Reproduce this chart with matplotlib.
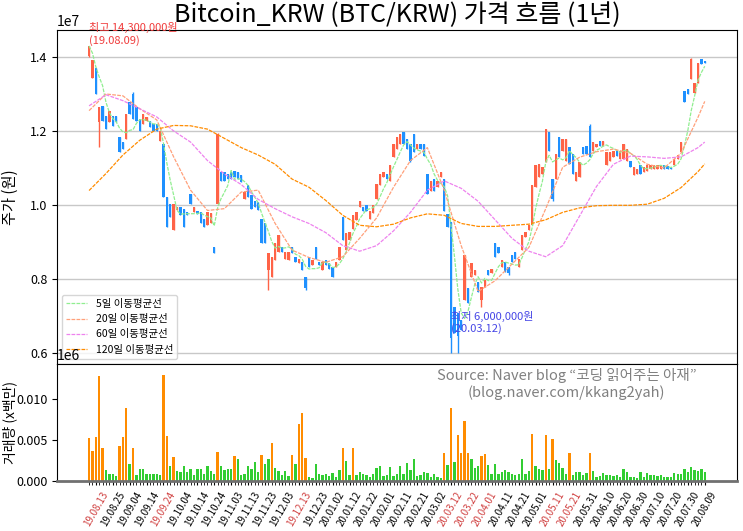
import numpy as np
import pandas as pd
import matplotlib
matplotlib.use("Agg")
import matplotlib.pyplot as plt

plt.rcParams['font.family'] = ['Noto Sans CJK KR', 'DejaVu Sans']
plt.rcParams['axes.unicode_minus'] = False

# 시가 / 종가 (백만원)
opens = [
    14.03, 13.44, 13.71, 12.23, 12.68, 12.41, 12.23, 12.41, 12.41, 11.83,
    11.69, 11.78, 12.77, 12.99, 12.64, 12.32, 12.19, 12.28, 12.28, 12.19,
    12.19, 11.74, 11.65, 10.21, 10.03, 9.32, 9.86, 9.94, 9.90, 9.81,
    10.30, 9.81, 9.85, 9.81, 9.63, 9.45, 9.50, 8.87, 10.03, 10.89,
    10.89, 10.85, 10.89, 10.93, 10.89, 10.80, 10.17, 10.53, 10.26, 10.10,
    10.08, 9.63, 9.50, 8.24, 8.06, 8.51, 8.73, 8.87, 8.55, 8.51,
    8.87, 8.60, 8.42, 8.45, 8.06, 8.60, 8.37, 8.87, 8.46, 8.24,
    8.51, 8.42, 8.33, 8.33, 8.51, 9.68, 8.78, 9.05, 9.36, 9.59,
    9.94, 9.94, 9.99, 9.63, 9.77, 10.17, 10.53, 10.75, 10.84, 10.66,
    11.29, 11.51, 11.65, 11.96, 11.78, 11.65, 11.92, 11.51, 11.65, 11.65,
    10.84, 10.39, 10.71, 10.48, 10.75, 10.71, 9.76, 9.54, 7.25, 7.07,
    6.89, 7.43, 7.75, 8.06, 8.11, 7.93, 7.43, 7.79, 8.24, 8.15,
    8.96, 8.87, 8.33, 8.46, 8.33, 8.64, 8.73, 8.33, 8.78, 9.14,
    9.32, 9.45, 10.48, 10.75, 10.84, 11.16, 11.96, 10.71, 10.71, 11.83,
    11.47, 11.20, 11.56, 11.38, 10.66, 10.75, 11.56, 11.60, 12.14, 11.47,
    11.56, 11.74, 11.60, 11.07, 11.20, 11.29, 11.47, 11.25, 11.25, 11.20,
    11.20, 10.80, 10.84, 11.07, 10.89, 10.93, 10.98, 10.98, 10.98, 10.98,
    11.07, 11.05, 11.02, 11.07, 11.25, 11.42, 13.09, 13.13, 13.40, 13.04,
    13.31, 13.94, 13.89]

closes = [
    14.30, 13.91, 12.99, 12.64, 12.28, 12.05, 12.55, 12.14, 12.23, 11.43,
    11.51, 12.46, 12.46, 12.32, 12.28, 12.01, 12.46, 12.37, 12.10, 12.01,
    12.01, 12.01, 10.21, 9.41, 9.68, 10.03, 9.94, 9.72, 9.41, 9.72,
    10.03, 9.94, 9.75, 9.50, 9.41, 9.81, 9.77, 8.69, 11.92, 10.66,
    10.66, 10.70, 10.71, 10.75, 10.71, 10.62, 10.35, 10.21, 9.90, 9.95,
    9.86, 8.96, 8.96, 8.69, 8.60, 8.96, 9.18, 8.73, 8.73, 8.73,
    8.69, 8.46, 8.55, 8.25, 7.75, 8.33, 8.51, 8.55, 8.37, 8.46,
    8.37, 8.28, 8.06, 8.46, 8.87, 9.05, 9.23, 9.27, 9.72, 9.81,
    10.12, 9.85, 9.85, 9.85, 9.99, 10.57, 10.84, 10.89, 10.71, 11.07,
    11.65, 11.83, 11.92, 11.65, 11.51, 11.20, 11.42, 11.65, 11.51, 11.33,
    10.30, 10.66, 10.39, 10.66, 10.89, 9.85, 9.41, 6.40, 6.54, 6.45,
    6.62, 8.64, 7.34, 8.42, 8.24, 7.66, 7.79, 7.97, 8.11, 8.28,
    8.60, 8.69, 8.51, 8.20, 8.15, 8.46, 8.55, 8.55, 9.18, 9.27,
    9.45, 10.53, 11.07, 11.11, 11.02, 12.05, 11.47, 10.17, 11.38, 11.29,
    11.78, 11.78, 11.11, 10.84, 10.89, 11.16, 11.38, 11.38, 11.29, 11.70,
    11.65, 11.60, 11.74, 11.42, 11.42, 11.47, 11.33, 11.47, 11.65, 11.51,
    11.02, 11.02, 10.98, 10.84, 11.02, 11.07, 11.07, 11.07, 11.07, 11.07,
    10.98, 10.98, 10.96, 11.25, 11.34, 11.70, 12.77, 13.00, 13.94, 13.31,
    13.85, 13.80, 13.85]

# 꼬리가 몸통 밖으로 나온 날만 따로
wick_high = {0: 14.30, 13: 13.05, 38: 11.95, 93: 11.98, 148: 12.20, 178: 13.96}
wick_low = {0: 14.00, 3: 11.56, 53: 7.70, 64: 7.70, 95: 11.15, 107: 6.00,
            109: 6.00, 116: 7.25, 124: 8.10, 137: 10.12}

# 거래량 (천 단위)
volumes = [
    5.2, 3.6, 5.3, 12.7, 4.0, 1.3, 0.9, 0.9, 0.6, 4.2,
    5.3, 8.8, 2.0, 4.0, 0.7, 1.4, 1.4, 0.8, 0.9, 0.8,
    0.8, 0.7, 12.9, 5.4, 1.85, 2.9, 1.2, 1.1, 1.85, 1.05,
    1.4, 0.7, 1.5, 1.5, 0.8, 1.85, 1.2, 0.9, 3.5, 1.85,
    1.3, 1.4, 1.4, 3.0, 2.65, 0.7, 0.8, 1.85, 1.4, 2.3,
    1.05, 3.1, 2.1, 2.7, 4.55, 1.6, 1.2, 0.7, 1.25, 0.6,
    3.1, 2.1, 6.9, 8.25, 2.8, 0.5, 0.4, 2.1, 0.9, 0.7,
    0.9, 0.6, 1.0, 0.5, 1.3, 4.0, 2.4, 0.7, 4.0, 0.7,
    1.05, 0.8, 0.7, 0.5, 0.8, 1.6, 1.85, 0.6, 0.7, 1.7,
    0.6, 0.9, 1.85, 0.8, 2.2, 1.3, 2.7, 0.6, 0.7, 1.1,
    1.0, 0.5, 0.83, 0.5, 0.4, 3.4, 1.9, 8.8, 2.3, 5.6,
    3.4, 7.3, 3.4, 2.7, 1.6, 1.8, 3.0, 3.3, 1.9, 0.9,
    2.1, 0.9, 1.1, 1.3, 1.1, 0.9, 0.7, 0.9, 2.7, 0.83,
    1.2, 5.7, 1.8, 1.5, 1.3, 5.6, 1.4, 5.1, 2.5, 2.2,
    1.6, 0.9, 3.4, 0.7, 1.1, 1.1, 0.7, 1.0, 3.45, 1.2,
    0.5, 0.6, 1.0, 0.7, 0.7, 0.6, 0.75, 0.5, 1.4, 1.1,
    0.5, 0.5, 0.4, 1.1, 0.5, 1.0, 0.75, 0.7, 0.6, 0.7,
    0.5, 0.5, 0.5, 1.0, 0.9, 0.83, 1.4, 1.1, 1.7, 1.3,
    1.2, 1.4, 1.1]

# 이동평균선 (5일 간격으로 읽은 값)
ma_idx = list(range(0, 181, 5)) + [182]
ma20 = [12.55, 13.0, 12.95, 12.6, 12.3, 11.3, 10.4, 9.85, 9.9, 10.35,
        10.4, 9.5, 8.78, 8.58, 8.45, 8.6, 9.1, 9.65, 10.48, 11.2,
        11.55, 10.4, 8.9, 7.66, 7.95, 8.4, 8.85, 9.9, 11.02, 11.29,
        11.44, 11.51, 11.4, 11.1, 11.0, 11.4, 12.37, 12.8]
ma60 = [12.68, 12.98, 12.82, 12.6, 12.38, 12.0, 11.7, 11.2, 10.84, 10.55,
        10.15, 9.9, 9.68, 9.5, 9.25, 8.9, 8.75, 8.9, 9.3, 9.8,
        10.4, 10.65, 10.45, 10.1, 9.6, 9.1, 8.75, 8.6, 8.9, 9.7,
        10.5, 11.1, 11.32, 11.3, 11.26, 11.3, 11.55, 11.7]
ma120 = [10.39, 10.85, 11.35, 11.75, 12.05, 12.15, 12.14, 12.05, 11.8, 11.55,
         11.35, 11.1, 10.7, 10.48, 10.12, 9.72, 9.45, 9.41, 9.48, 9.65,
         9.76, 9.72, 9.5, 9.42, 9.42, 9.45, 9.48, 9.6, 9.8, 9.92,
         9.98, 9.99, 9.99, 10.02, 10.18, 10.47, 10.9, 11.11]

tick_labels = ['19.08.13', '19.08.25', '19.09.04', '19.09.14', '19.09.24', '19.10.04',
               '19.10.14', '19.10.24', '19.11.03', '19.11.13', '19.11.23', '19.12.03',
               '19.12.13', '19.12.23', '20.01.02', '20.01.12', '20.01.22', '20.02.01',
               '20.02.11', '20.02.21', '20.03.02', '20.03.12', '20.03.22', '20.04.01',
               '20.04.11', '20.04.21', '20.05.01', '20.05.11', '20.05.21', '20.05.31',
               '20.06.10', '20.06.20', '20.06.30', '20.07.10', '20.07.20', '20.07.30',
               '20.08.09']
red_labels = ['19.08.13', '19.09.24', '19.12.13', '20.03.12', '20.03.22',
              '20.04.01', '20.05.11', '20.05.21']

M = 1e6
n = len(closes)
x = np.arange(n)
o = np.array(opens) * M
c = np.array(closes) * M
hi = np.maximum(o, c)
lo = np.minimum(o, c)
for k, v in wick_high.items():
    hi[k] = v * M
for k, v in wick_low.items():
    lo[k] = v * M
vol = np.array(volumes) * 1000

up = c >= o
cand_col = np.where(up, 'tomato', 'dodgerblue')

fig = plt.figure(figsize=(7.43, 5.31), dpi=100)
ax1 = fig.add_axes([0.0767, 0.3145, 0.915, 0.629])
ax2 = fig.add_axes([0.0767, 0.0942, 0.915, 0.2203], sharex=ax1)

# 캔들
ax1.vlines(x, lo, hi, colors=cand_col, linewidth=1)
ax1.bar(x, np.abs(c - o), bottom=np.minimum(o, c), width=0.7, color=cand_col)

# 이동평균선
ma5 = pd.Series(c).rolling(5, min_periods=1).mean()
ax1.plot(x, ma5, color='lightgreen', lw=0.9, ls=(0, (3, 1)), label='5일 이동평균선')
ax1.plot(ma_idx, np.array(ma20) * M, color='lightsalmon', lw=0.9, ls=(0, (3, 1)), label='20일 이동평균선')
ax1.plot(ma_idx, np.array(ma60) * M, color='violet', lw=0.9, ls=(0, (3, 1)), label='60일 이동평균선')
ax1.plot(ma_idx, np.array(ma120) * M, color='darkorange', lw=0.9, ls=(0, (3, 1)), label='120일 이동평균선')

ax1.set_ylim(5.7e6, 14.73e6)
ax1.yaxis.grid(True, color='#c8c8c8', lw=1)
ax1.set_axisbelow(True)
ax1.set_ylabel('주가 (원)', fontsize=11)
ax1.yaxis.set_label_coords(-0.056, 0.5)
ax1.tick_params(axis='y', labelsize=9)
ax1.set_title('Bitcoin_KRW (BTC/KRW) 가격 흐름 (1년)', fontsize=18)
ax1.tick_params(axis='x', which='both', bottom=False, labelbottom=False)
ax1.legend(loc='lower left', fontsize=7.5)

# 최고 / 최저 표시
i_max = int(np.argmax(hi))
i_min = int(np.argmin(lo))
ax1.text(i_max, hi[i_max], '최고 {:,.0f}원\n(19.08.09)'.format(hi[i_max]),
         color='#f03c3c', fontsize=8, va='bottom', ha='left')
ax1.text(i_min, 6.5e6, '최저 {:,.0f}원\n(20.03.12)'.format(lo[i_min]),
         color='#4646e6', fontsize=8, va='bottom', ha='left')

# 거래량
vol_col = np.where(vol > 2750, 'darkorange', 'limegreen')
ax2.bar(x, vol, width=0.7, color=vol_col)
ax2.set_ylim(0, vol.max() * 1.1)
ax2.ticklabel_format(axis='y', style='sci', scilimits=(6, 6))
ax2.tick_params(axis='y', labelsize=9)
ax2.set_ylabel('거래량 (x백만)', fontsize=10)
ax2.yaxis.set_label_coords(-0.058, 0.5)
ax2.spines['bottom'].set_color('#707070')
ax2.spines['bottom'].set_linewidth(2)

tick_pos = list(range(2, n, 5))
ax2.set_xticks(x, minor=True)
ax2.set_xticks(tick_pos)
ax2.set_xticklabels(tick_labels, rotation=60, fontsize=7)
ax2.tick_params(axis='x', which='both', length=3)
for lab in ax2.get_xticklabels():
    if lab.get_text() in red_labels:
        lab.set_color('#d04040')

ax2.text(0.75, 0.83, 'Source: Naver blog “코딩 읽어주는 아재”\n(blog.naver.com/kkang2yah)',
         transform=ax2.transAxes, ha='center', va='center', multialignment='center',
         color='gray', fontsize=10.5)

fig.savefig('out.png', dpi=100)
